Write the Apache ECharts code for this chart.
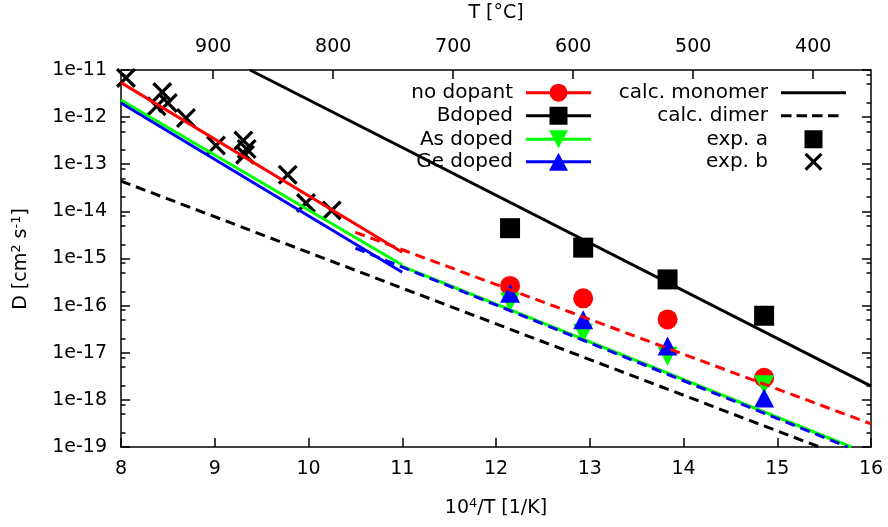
<!DOCTYPE html>
<html><head><meta charset="utf-8">
<script src="https://cdn.jsdelivr.net/npm/echarts@6/dist/echarts.min.js"></script>
<style>html,body{margin:0;padding:0;background:#fff}#c{width:888px;height:527px}</style>
</head><body><div id="c"></div>
<script>
const FONT = 'DejaVu Sans';

// bottom axis ticks (10^4/T) and top axis ticks (T in °C)
const xTickMin = 8, xTickMax = 16;
const tempTicks = [400, 500, 600, 700, 800, 900];
const tempAxisMin = 351.85, tempAxisMax = 976.85;
const minorMultipliers = [2, 5, 8];

// simulated diffusivities (solid lines)
const simX = [8, 11];
const noDopantSim = [5.4e-12, 1.36e-15];
const asDopedSim = [2.3e-12, 7.3e-16];
const geDopedSim = [2.0e-12, 5.1e-16];

// extrapolations (dashed)
const noDopantFitX = [10.5, 16];
const noDopantFit = [3.6e-15, 3.1e-19];
const geDopedFitX = [10.5, 15.75];
const geDopedFit = [1.66e-15, 1e-19];
const asDopedFitX = [11, 15.79];
const asDopedFit = [6.8e-16, 1e-19];

// calculated monomer / dimer
const monomerX = [9.376, 16];
const monomerD = [1e-11, 1.95e-18];
const dimerX = [8, 15.45];
const dimerD = [4.4e-14, 1e-19];

// points at 550, 500, 450, 400 °C
const pointX = [12.15, 12.93, 13.83, 14.86];
const noDopantPts = [2.62e-16, 1.43e-16, 5.1e-17, 2.95e-18];
const bDopedPts = [4.4e-15, 1.7e-15, 3.6e-16, 6.1e-17];
const asDopedPts = [1.2e-16, 2.6e-17, 8.4e-18, 2.1e-18];
const geDopedPts = [1.83e-16, 5.0e-17, 1.39e-17, 1.1e-18];

// experimental data b
const expBX = [8.053, 8.44, 8.38, 8.50, 8.693, 9.013, 9.305, 9.34, 9.323, 9.778, 9.973, 10.247];
const expBD = [6.8e-12, 3.4e-12, 1.7e-12, 2.0e-12, 9.6e-13, 2.5e-13, 3.2e-13, 2.1e-13, 1.6e-13, 6.0e-14, 1.5e-14, 1.05e-14];
const expAX = [];
const expAD = [];

// axis titles
const xTitle = '{a|10}{s|4}{a|/T [1/K]}';
const x2Title = 'T [°C]';
const yTitle = '{a|D [cm}{s|2}{a| s}{s|-1}{a|]}';

function pairs(xs, ys) { return xs.map((x, i) => [x, ys[i]]); }

const minorTickValues = [];
for (let n = -19; n < -11; n++) for (const k of minorMultipliers) minorTickValues.push(n + Math.log10(k));

const RED = '#ff0000', GREEN = '#00ff00', BLUE = '#0000ff', BLACK = '#000000';
const DASH = [10, 6];
const XPATH = 'path://M0,2.3L2.3,0L10,7.7L17.7,0L20,2.3L12.3,10L20,17.7L17.7,20L10,12.3L2.3,20L0,17.7L7.7,10Z';

// legend icon paths (65 x 20 box)
const corners = 'M0,0h0.01v0.01h-0.01z M64.99,19.99h0.01v0.01h-0.01z ';
const lineSeg = 'M0,8.5h65v3h-65z ';
const icons = {
  circle: 'path://' + corners + lineSeg + 'M23.5,10A9,9 0 0,1 41.5,10A9,9 0 0,1 23.5,10Z',
  square: 'path://' + corners + lineSeg + 'M23.5,1h18v18h-18z',
  triDown: 'path://' + corners + lineSeg + 'M23,1H42L32.5,19Z',
  triUp: 'path://' + corners + lineSeg + 'M32.5,1L42,19H23Z',
  line: 'path://' + corners + lineSeg,
  dash: 'path://' + corners + 'M0,8.5h10.5v3h-10.5z M15.5,8.5h10.5v3h-10.5z M31,8.5h10.5v3h-10.5z M47,8.5h10.5v3h-10.5z',
  sq: 'path://' + corners + 'M23.5,1h18v18h-18z',
  x: 'path://' + corners + 'M23.5,3.2L25.7,1L32.5,7.8L39.3,1L41.5,3.2L34.7,10L41.5,16.8L39.3,19L32.5,12.2L25.7,19L23.5,16.8L30.3,10Z'
};

const legendItems = [
  ['no dopant', icons.circle, 297, 82.7],
  ['Bdoped', icons.square, 297, 105.7],
  ['As doped', icons.triDown, 297, 129.3],
  ['Ge doped', icons.triUp, 297, 151.7],
  ['calc. monomer', icons.line, 42, 82.7],
  ['calc. dimer', icons.dash, 42, 105.7],
  ['exp. a', icons.sq, 42, 129.3],
  ['exp. b', icons.x, 42, 151.7]
];
const legends = legendItems.map(([name, icon, right, top]) => ({
  orient: 'vertical', right: right, top: top, padding: 0, itemGap: 0,
  itemWidth: 65, itemHeight: 20, align: 'right', selectedMode: false,
  itemStyle: { borderWidth: 0 },
  textStyle: { fontFamily: FONT, fontSize: 20, color: '#000', padding: [0, 8, 0, 0] },
  data: [{ name: name, icon: icon }]
}));

function axLine() { return { color: '#000', width: 1.5 }; }
function labelStyle(extra) { return Object.assign({ fontFamily: FONT, fontSize: 19, color: '#000' }, extra); }
function richMain() { return { fontFamily: FONT, fontSize: 19, fill: '#000', color: '#000', lineHeight: 22 }; }
function richSup() { return { fontFamily: FONT, fontSize: 13, fill: '#000', color: '#000', lineHeight: 12, verticalAlign: 'top' }; }

function lineSeries(name, xs, ys, color, dashed) {
  return {
    name: name, type: 'line', xAxisIndex: 0, yAxisIndex: 0,
    data: pairs(xs, ys), showSymbol: false, symbol: 'none', silent: true,
    lineStyle: { color: color, width: 3, type: dashed ? DASH : 'solid' },
    itemStyle: { color: color }
  };
}
function scatterSeries(name, xs, ys, color, symbol, size, rotate) {
  return {
    name: name, type: 'scatter', xAxisIndex: 0, yAxisIndex: 0,
    data: pairs(xs, ys), symbol: symbol, symbolSize: size, symbolRotate: rotate || 0,
    itemStyle: { color: color, opacity: 1 }, silent: true
  };
}

const option = {
  animation: false,
  backgroundColor: '#fff',
  grid: { left: 121, right: 17, top: 70, bottom: 80, containLabel: false, outerBoundsMode: 'none' },
  legend: legends,
  graphic: [
    { type: 'text', x: 496, y: 508, silent: true,
      style: { text: xTitle, align: 'center', verticalAlign: 'middle', fontFamily: FONT, fontSize: 19, fill: '#000', rich: { a: richMain(), s: richSup() } } },
    { type: 'text', x: 496, y: 13, silent: true,
      style: { text: x2Title, align: 'center', verticalAlign: 'middle', fontFamily: FONT, fontSize: 19, fill: '#000' } },
    { type: 'text', x: 21, y: 259, rotation: Math.PI / 2, silent: true,
      style: { text: yTitle, align: 'center', verticalAlign: 'middle', fontFamily: FONT, fontSize: 19, fill: '#000', rich: { a: richMain(), s: richSup() } } }
  ],
  xAxis: [
    {
      type: 'value', position: 'bottom', min: xTickMin, max: xTickMax, interval: 1,
      axisLine: { show: true, lineStyle: axLine(), onZero: false },
      axisTick: { show: true, inside: true, length: 9, lineStyle: axLine() },
      axisLabel: labelStyle({ margin: 13 }),
      splitLine: { show: false }
    },
    {
      type: 'value', position: 'top', min: tempAxisMin, max: tempAxisMax, inverse: true,
      axisLine: { show: true, lineStyle: axLine(), onZero: false },
      axisTick: { show: true, inside: true, length: 9, lineStyle: axLine(), customValues: tempTicks },
      axisLabel: labelStyle({ margin: 13, customValues: tempTicks }),
      splitLine: { show: false }
    }
  ],
  yAxis: [
    {
      type: 'log', logBase: 10, min: 1e-19, max: 1e-11, position: 'left',
      axisLine: { show: true, lineStyle: axLine(), onZero: false },
      axisTick: { show: true, inside: true, length: 9, lineStyle: axLine() },
      axisLabel: labelStyle({ margin: 14, formatter: v => '1e' + Math.round(Math.log10(v)) }),
      splitLine: { show: false }, minorTick: { show: false }
    },
    {
      type: 'log', logBase: 10, min: 1e-19, max: 1e-11, position: 'right',
      axisLine: { show: true, lineStyle: axLine(), onZero: false },
      axisTick: { show: true, inside: true, length: 9, lineStyle: axLine() },
      axisLabel: { show: false }, splitLine: { show: false }
    },
    {
      type: 'value', min: -19, max: -11, position: 'left',
      axisLine: { show: false },
      axisTick: { show: true, inside: true, length: 4.5, lineStyle: axLine(), customValues: minorTickValues },
      axisLabel: { show: false }, splitLine: { show: false }
    },
    {
      type: 'value', min: -19, max: -11, position: 'right',
      axisLine: { show: false },
      axisTick: { show: true, inside: true, length: 4.5, lineStyle: axLine(), customValues: minorTickValues },
      axisLabel: { show: false }, splitLine: { show: false }
    }
  ],
  series: [
    lineSeries('no dopant', simX, noDopantSim, RED, false),
    lineSeries('no dopant extrapolation', noDopantFitX, noDopantFit, RED, true),
    lineSeries('As doped', simX, asDopedSim, GREEN, false),
    lineSeries('As doped extrapolation', asDopedFitX, asDopedFit, GREEN, false),
    lineSeries('Ge doped', simX, geDopedSim, BLUE, false),
    lineSeries('Ge doped extrapolation', geDopedFitX, geDopedFit, BLUE, true),
    lineSeries('calc. monomer', monomerX, monomerD, BLACK, false),
    lineSeries('calc. dimer', dimerX, dimerD, BLACK, true),
    scatterSeries('no dopant', pointX, noDopantPts, RED, 'circle', 20),
    scatterSeries('Bdoped', pointX, bDopedPts, BLACK, 'rect', 20),
    scatterSeries('As doped', pointX, asDopedPts, GREEN, 'triangle', [20, 19], 180),
    scatterSeries('Ge doped', pointX, geDopedPts, BLUE, 'triangle', [20, 19]),
    scatterSeries('exp. a', expAX, expAD, BLACK, 'rect', 18),
    scatterSeries('exp. b', expBX, expBD, BLACK, XPATH, 20)
  ]
};

const chart = echarts.init(document.getElementById('c'), null, { renderer: 'canvas' });
chart.setOption(option);
</script></body></html>
